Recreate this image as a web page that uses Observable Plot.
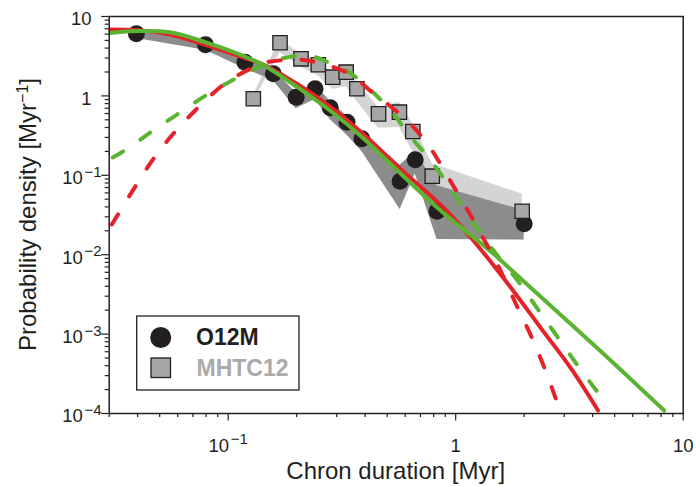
<!DOCTYPE html>
<html><head><meta charset="utf-8">
<script src="https://cdn.jsdelivr.net/npm/d3@7"></script>
<script src="https://cdn.jsdelivr.net/npm/@observablehq/plot@0.6"></script>
<style>
html,body{margin:0;padding:0;background:#fff;}
#chart{width:696px;height:486px;}
#chart svg{display:block;}
</style></head>
<body><div id="chart"></div>
<script>
// ---- data ----
const seriesNames = ["O12M", "MHTC12"];

const o12mX  = [0.0395, 0.0795, 0.1186, 0.158, 0.199, 0.241, 0.281, 0.333, 0.387, 0.570, 0.664, 0.828, 2.0];
const o12mY  = [6.05, 4.4, 2.66, 1.9, 0.96, 1.23, 0.71, 0.467, 0.288, 0.0843, 0.157, 0.0353, 0.0245];
const o12mLo = [5.3, 3.75, 2.2, 1.55, 0.69, 0.9, 0.5, 0.32, 0.2, 0.037, 0.104, 0.0155, 0.0153];
const o12mHi = [6.5, 4.85, 2.95, 2.1, 1.1, 1.4, 0.85, 0.56, 0.34, 0.134, 0.2, 0.074, 0.036];

const mhtcX  = [0.129, 0.169, 0.209, 0.249, 0.288, 0.330, 0.368, 0.458, 0.566, 0.648, 0.789, 1.96];
const mhtcY  = [0.92, 4.67, 2.93, 2.47, 1.72, 1.99, 1.23, 0.594, 0.624, 0.356, 0.0975, 0.0353];
const mhtcLo = [0.84, 3.5, 2.3, 1.8, 1.2, 1.3, 0.85, 0.39, 0.40, 0.2, 0.045, 0.03];
const mhtcHi = [1.0, 5.3, 3.3, 2.8, 1.9, 2.4, 1.45, 0.72, 0.83, 0.45, 0.14, 0.058];

const redSolidX = [0.03, 0.0401, 0.0555, 0.0792, 0.1188, 0.1426, 0.2014, 0.2863, 0.388, 0.5724, 0.9035, 1.289, 1.80, 2.368, 3.212, 4.223];
const redSolidY = [6.86, 6.72, 5.93, 4.40, 3.00, 2.49, 1.41, 0.704, 0.341, 0.120, 0.0366, 0.01163, 0.00344, 0.00119, 0.000369, 0.000109];

const greenSolidX = [0.03, 0.0401, 0.0555, 0.0792, 0.1188, 0.1426, 0.2014, 0.2863, 0.388, 0.5724, 0.833, 1.426, 2.206, 4.352, 8.25];
const greenSolidY = [6.20, 6.57, 6.32, 4.75, 3.12, 2.45, 1.287, 0.623, 0.302, 0.1054, 0.0387, 0.01097, 0.00354, 0.000604, 0.000109];

const redDashX = [0.0308, 0.0377, 0.0453, 0.0565, 0.0716, 0.0922, 0.1038, 0.125, 0.1455, 0.1783, 0.2076, 0.2621, 0.3447, 0.4366, 0.50, 0.6334, 0.7761, 0.9221, 1.088, 1.289, 1.527, 1.838, 2.14, 2.449, 2.843];
const redDashY = [0.024, 0.0613, 0.1396, 0.317, 0.655, 1.287, 1.642, 2.19, 2.63, 2.83, 2.87, 2.52, 1.86, 1.063, 0.795, 0.443, 0.2176, 0.0966, 0.0438, 0.01833, 0.00752, 0.00241, 0.00096, 0.000383, 0.000119];

const greenDashX = [0.0311, 0.037, 0.0446, 0.0594, 0.0806, 0.1073, 0.1229, 0.1505, 0.1724, 0.2076, 0.2442, 0.291, 0.3333, 0.4137, 0.5172, 0.627, 0.7761, 0.9506, 1.204, 1.501, 1.87, 2.291, 2.806, 3.437, 4.487];
const greenDashY = [0.1676, 0.226, 0.333, 0.578, 1.032, 1.642, 2.03, 2.60, 2.96, 3.23, 3.05, 2.45, 2.06, 1.257, 0.655, 0.317, 0.1536, 0.0682, 0.0245, 0.01035, 0.00473, 0.00208, 0.000914, 0.000402, 0.0001458];

const xMajor = [0.1, 1, 10];
const xTickLabels = ["10^-1", "1", "10"];
const xMinor = [0.03,0.04,0.05,0.06,0.07,0.08,0.09,0.2,0.3,0.4,0.5,0.6,0.7,0.8,0.9,2,3,4,5,6,7,8,9];
const yMajor = [1e-4, 1e-3, 1e-2, 1e-1, 1, 10];
const yTickLabels = ["10^-4", "10^-3", "10^-2", "10^-1", "1", "10"];
const yMinorMult = [2,3,4,5,6,7,8,9];
const yDecades = [1e-4, 1e-3, 1e-2, 1e-1, 1];
const yMinor = yDecades.flatMap(d => yMinorMult.map(m => +(m * d).toPrecision(3)));

const xLabel = "Chron duration [Myr]";
const yLabelMain = "Probability density [Myr";
const yLabelExp = "\u22121";

// ---- styling ----
const FONT = '"Liberation Sans", Arial, Helvetica, sans-serif';
const INK = "#231f20";
const RED = "#e42228";
const GREEN = "#5ab431";

const pts = (xs, ys) => xs.map((x, i) => ({x, y: ys[i]}));
const o12m = o12mX.map((x, i) => ({x, y: o12mY[i], lo: o12mLo[i], hi: o12mHi[i]}));
const mhtc = mhtcX.map((x, i) => ({x, y: mhtcY[i], lo: mhtcLo[i], hi: mhtcHi[i]}));
const redSolid = pts(redSolidX, redSolidY);
const greenSolid = pts(greenSolidX, greenSolidY);
const redDash = pts(redDashX, redDashY);
const greenDash = pts(greenDashX, greenDashY);
const xTicks = xMajor.map((v, i) => ({v, label: xTickLabels[i]}));
const yTicks = yMajor.map((v, i) => ({v, label: yTickLabels[i]}));

const chart = Plot.plot({
  width: 696, height: 486,
  marginLeft: 108.7, marginRight: 13.3, marginTop: 16, marginBottom: 73,
  x: {type: "log", domain: [0.03, 10], axis: null},
  y: {type: "log", domain: [1e-4, 10], axis: null},
  style: {fontFamily: FONT, fontSize: "18px", background: "#fff", color: INK},
  marks: [
    Plot.areaY(mhtc, {x: "x", y1: "lo", y2: "hi", fill: "#d4d4d4"}),
    Plot.areaY(o12m, {x: "x", y1: "lo", y2: "hi", fill: "#8c8c8c"}),
    Plot.dot(o12m, {x: "x", y: "y", r: 8.5, fill: INK}),
    Plot.dot(mhtc, {x: "x", y: "y", r: 8.1, symbol: "square", fill: "#a6a6a6", stroke: INK, strokeWidth: 1.3}),
    Plot.line(redSolid, {x: "x", y: "y", stroke: RED, strokeWidth: 4, curve: "catmull-rom", clip: true}),
    Plot.line(greenSolid, {x: "x", y: "y", stroke: GREEN, strokeWidth: 4, curve: "catmull-rom", clip: true}),
    Plot.line(greenDash, {x: "x", y: "y", stroke: GREEN, strokeWidth: 4, curve: "catmull-rom", strokeDasharray: "12,21", strokeLinecap: "round", clip: true}),
    Plot.line(redDash, {x: "x", y: "y", stroke: RED, strokeWidth: 4, curve: "catmull-rom", strokeDasharray: "12,21", strokeLinecap: "round", clip: true}),
    Plot.axisX(xMinor, {tickSize: 4, tickFormat: () => "", stroke: INK, strokeWidth: 1.2, label: null}),
    Plot.axisX(xMajor, {tickSize: 7.5, tickFormat: () => "", stroke: INK, strokeWidth: 1.2, label: null}),
    Plot.axisY(yMinor, {tickSize: 4, tickFormat: () => "", stroke: INK, strokeWidth: 1.2, label: null}),
    Plot.axisY(yMajor, {tickSize: 7.5, tickFormat: () => "", stroke: INK, strokeWidth: 1.2, label: null}),
    Plot.text(xTicks, {x: "v", text: "label", frameAnchor: "bottom", lineAnchor: "top", dy: 25, fontSize: 18.5, fill: INK}),
    Plot.text(yTicks, {y: "v", text: "label", frameAnchor: "left", textAnchor: "end", dx: -17.7, dy: 3, fontSize: 18.5, fill: INK}),
    Plot.frame({stroke: INK, strokeWidth: 1.5})
  ]
});
document.getElementById("chart").appendChild(chart);

const svg = d3.select(chart);
// superscript exponents in tick labels
svg.selectAll("text").each(function() {
  const t = this.textContent;
  if (!t || t.indexOf("^") < 0) return;
  const isY = getComputedStyle(this).textAnchor === "end";
  const parts = t.split("^");
  const s = d3.select(this);
  s.text(parts[0]);
  s.append("tspan").attr("dx", 1.5).attr("dy", -7.5).attr("font-size", 15).text(parts[1].replace("-", "\u2212"));
  if (isY) s.attr("dx", 10);
});

// axis titles
svg.append("text").attr("x", 395.7).attr("y", 479).attr("text-anchor", "middle")
  .attr("font-size", 24).attr("fill", INK).attr("font-family", FONT).text(xLabel);
const yl = svg.append("text").attr("transform", "translate(36,214.5) rotate(-90)")
  .attr("text-anchor", "middle").attr("font-size", 24).attr("fill", INK).attr("font-family", FONT);
yl.append("tspan").text(yLabelMain);
yl.append("tspan").attr("dy", -8.5).attr("font-size", 16).text(yLabelExp);
yl.append("tspan").attr("dy", 8.5).text("]");

// legend
const lg = svg.append("g").attr("font-family", FONT).attr("text-anchor", "start");
lg.append("rect").attr("x", 136.7).attr("y", 316).attr("width", 162.3).attr("height", 74)
  .attr("fill", "#fff").attr("stroke", INK).attr("stroke-width", 1.3);
lg.append("circle").attr("cx", 160.7).attr("cy", 337.5).attr("r", 10.5).attr("fill", INK);
lg.append("rect").attr("x", 151).attr("y", 358).attr("width", 19.5).attr("height", 19.5)
  .attr("fill", "#a6a6a6").attr("stroke", INK).attr("stroke-width", 1.3);
lg.append("text").attr("x", 196).attr("y", 345).attr("font-size", 23).attr("font-weight", "bold")
  .attr("text-anchor", "start").attr("fill", INK).text(seriesNames[0]);
lg.append("text").attr("x", 196.5).attr("y", 375.5).attr("font-size", 23).attr("font-weight", "bold")
  .attr("text-anchor", "start").attr("fill", "#aaaaaa").text(seriesNames[1]);
</script>
</body></html>
